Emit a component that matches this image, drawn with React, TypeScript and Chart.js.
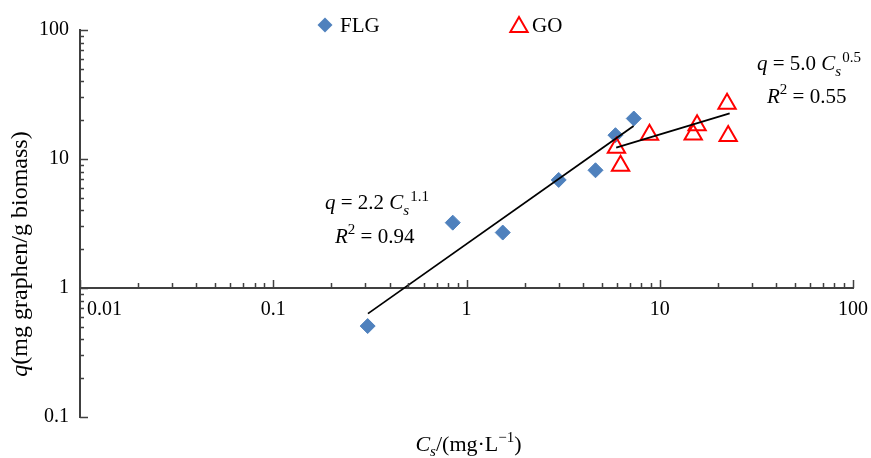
import React, { useEffect, useRef } from 'react';
import { Chart, registerables } from 'chart.js';

Chart.register(...registerables);

const FONT = "'Liberation Serif', 'Times New Roman', Times, serif";
const AXIS_COLOR = '#404040';
const FLG_COLOR = '#4F81BD';
const GO_COLOR = '#FF0000';

// ---- data ----
const seriesNames = ['FLG', 'GO'];
const flgCs = [0.308, 0.849, 1.54, 3.0, 4.65, 5.9, 7.34];
const flgQ = [0.507, 3.21, 2.69, 6.88, 8.18, 15.3, 20.6];
const goCs = [5.97, 6.27, 8.85, 14.9, 15.6, 22.3, 22.6];
const goQ = [12.2, 8.86, 15.4, 15.5, 18.3, 26.8, 15.1];
const flgFitCs = [0.309, 7.32];
const flgFitQ = [0.633, 18.0];
const goFitCs = [5.95, 23.0];
const goFitQ = [12.25, 22.6];
const xTickValues = [0.01, 0.1, 1, 10, 100];
const xTickLabels = ['0.01', '0.1', '1', '10', '100'];
const yTickValues = [0.1, 1, 10, 100];
const yTickLabels = ['0.1', '1', '10', '100'];
const xMinorFactors = [2, 3, 4, 5, 6, 7, 8, 9];

type Part = { t: string; italic?: boolean; size: number; dy?: number; dx?: number };

function measureRich(ctx: CanvasRenderingContext2D, parts: Part[]) {
  let w = 0;
  for (const p of parts) {
    ctx.font = `${p.italic ? 'italic ' : ''}${p.size}px ${FONT}`;
    w += ctx.measureText(p.t).width + (p.dx || 0);
  }
  return w;
}

function drawRich(ctx: CanvasRenderingContext2D, x: number, y: number, parts: Part[]) {
  let cx = x;
  ctx.textAlign = 'left';
  ctx.textBaseline = 'alphabetic';
  for (const p of parts) {
    ctx.font = `${p.italic ? 'italic ' : ''}${p.size}px ${FONT}`;
    cx += p.dx || 0;
    ctx.fillText(p.t, cx, y + (p.dy || 0));
    cx += ctx.measureText(p.t).width;
  }
}

const decorPlugin = {
  id: 'decor',
  afterDraw(chart: any) {
    const { ctx, chartArea, scales } = chart;
    const xs = scales.x;
    const ys = scales.y;
    const axisX = chartArea.left;
    const axisY = ys.getPixelForValue(1);
    ctx.save();
    ctx.strokeStyle = AXIS_COLOR;
    ctx.lineWidth = 1.5;
    ctx.beginPath();
    // y ticks (inside, to the right)
    for (let i = 0; i < yTickValues.length; i++) {
      const v = yTickValues[i];
      const p = Math.round(ys.getPixelForValue(v)) + 0.5;
      ctx.moveTo(axisX, p);
      ctx.lineTo(axisX + 8, p);
      if (i < yTickValues.length - 1) {
        for (const f of xMinorFactors) {
          const pm = Math.round(ys.getPixelForValue(v * f)) + 0.5;
          ctx.moveTo(axisX, pm);
          ctx.lineTo(axisX + 4, pm);
        }
      }
    }
    // x ticks (upwards)
    for (let i = 0; i < xTickValues.length; i++) {
      const v = xTickValues[i];
      const p = Math.round(xs.getPixelForValue(v)) + 0.5;
      ctx.moveTo(p, axisY);
      ctx.lineTo(p, axisY - 8);
      if (i < xTickValues.length - 1) {
        for (const f of xMinorFactors) {
          const pm = Math.round(xs.getPixelForValue(v * f)) + 0.5;
          ctx.moveTo(pm, axisY);
          ctx.lineTo(pm, axisY - 5);
        }
      }
    }
    ctx.stroke();

    // x tick labels
    ctx.fillStyle = '#000';
    ctx.font = `20px ${FONT}`;
    ctx.textBaseline = 'alphabetic';
    for (let i = 0; i < xTickValues.length; i++) {
      const p = xs.getPixelForValue(xTickValues[i]);
      if (i === 0) {
        ctx.textAlign = 'left';
        ctx.fillText(xTickLabels[i], p + 7, axisY + 27);
      } else {
        ctx.textAlign = 'center';
        ctx.fillText(xTickLabels[i], p, axisY + 27);
      }
    }

    // legend
    const lx1 = 325, ly = 25;
    ctx.fillStyle = FLG_COLOR;
    ctx.beginPath();
    ctx.moveTo(lx1 - 7.5, ly);
    ctx.lineTo(lx1, ly - 7.5);
    ctx.lineTo(lx1 + 7.5, ly);
    ctx.lineTo(lx1, ly + 7.5);
    ctx.closePath();
    ctx.fill();
    const lx2 = 519, ly2 = 27, r = 10;
    ctx.strokeStyle = GO_COLOR;
    ctx.lineWidth = 2;
    ctx.beginPath();
    ctx.moveTo(lx2, ly2 - r);
    ctx.lineTo(lx2 + r * Math.sin((2 * Math.PI) / 3), ly2 - r * Math.cos((2 * Math.PI) / 3));
    ctx.lineTo(lx2 + r * Math.sin((4 * Math.PI) / 3), ly2 - r * Math.cos((4 * Math.PI) / 3));
    ctx.closePath();
    ctx.stroke();
    ctx.fillStyle = '#000';
    ctx.font = `21px ${FONT}`;
    ctx.textAlign = 'left';
    ctx.fillText(seriesNames[0], 340, 32);
    ctx.fillText(seriesNames[1], 532, 32);

    // equations
    const eq = (x: number, y: number, coef: string, exp: string) =>
      drawRich(ctx, x, y, [
        { t: 'q', italic: true, size: 21 },
        { t: ` = ${coef} `, size: 21 },
        { t: 'C', italic: true, size: 21 },
        { t: 's', italic: true, size: 15, dy: 6 },
        { t: exp, size: 15, dy: -8, dx: 1 },
      ]);
    const r2 = (x: number, y: number, val: string) =>
      drawRich(ctx, x, y, [
        { t: 'R', italic: true, size: 21 },
        { t: '2', size: 15, dy: -9 },
        { t: ` = ${val}`, size: 21 },
      ]);
    eq(325, 209, '2.2', '1.1');
    r2(335, 243, '0.94');
    eq(757, 69.5, '5.0', '0.5');
    r2(767, 102.5, '0.55');

    // x axis title
    const xt: Part[] = [
      { t: 'C', italic: true, size: 22 },
      { t: 's', italic: true, size: 15, dy: 5 },
      { t: '/(mg·L', size: 22 },
      { t: '−1', size: 15, dy: -9 },
      { t: ')', size: 22 },
    ];
    const xtw = measureRich(ctx, xt);
    drawRich(ctx, (chartArea.left + chartArea.right) / 2 - xtw / 2 + 2, 451, xt);

    // y axis title
    const yt: Part[] = [
      { t: 'q', italic: true, size: 24 },
      { t: '(mg graphen/g biomass)', size: 24 },
    ];
    const ytw = measureRich(ctx, yt);
    ctx.save();
    ctx.translate(27, 254);
    ctx.rotate(-Math.PI / 2);
    drawRich(ctx, -ytw / 2, 0, yt);
    ctx.restore();

    ctx.restore();
  },
};

export default function App() {
  const ref = useRef<HTMLCanvasElement | null>(null);
  useEffect(() => {
    if (!ref.current) return;
    const toXY = (xs: number[], ys: number[]) => xs.map((x, i) => ({ x, y: ys[i] }));
    const chart = new Chart(ref.current, {
      type: 'scatter',
      data: {
        datasets: [
          {
            label: 'FLG fit',
            data: toXY(flgFitCs, flgFitQ),
            showLine: true,
            pointRadius: 0,
            borderColor: '#000',
            borderWidth: 1.8,
          },
          {
            label: 'GO fit',
            data: toXY(goFitCs, goFitQ),
            showLine: true,
            pointRadius: 0,
            borderColor: '#000',
            borderWidth: 1.8,
          },
          {
            label: seriesNames[1],
            data: toXY(goCs, goQ),
            pointStyle: 'triangle',
            pointRadius: 10,
            pointHoverRadius: 10,
            backgroundColor: 'rgba(0,0,0,0)',
            borderColor: GO_COLOR,
            borderWidth: 2,
          },
          {
            label: seriesNames[0],
            data: toXY(flgCs, flgQ),
            pointStyle: 'rectRot',
            pointRadius: 7.5,
            pointHoverRadius: 7.5,
            backgroundColor: FLG_COLOR,
            borderColor: FLG_COLOR,
            borderWidth: 1,
          },
        ],
      },
      options: {
        responsive: false,
        animation: false,
        events: [],
        layout: { padding: { left: 0, right: 18, top: 30, bottom: 41 } },
        plugins: { legend: { display: false }, tooltip: { enabled: false } },
        scales: {
          x: {
            type: 'logarithmic',
            min: 0.01,
            max: 100,
            position: { y: 1 } as any,
            grid: { display: false },
            border: { display: true, color: AXIS_COLOR, width: 2 },
            ticks: { display: false },
          },
          y: {
            type: 'logarithmic',
            min: 0.1,
            max: 100,
            position: 'left',
            grid: { display: false, drawTicks: false },
            border: { display: true, color: AXIS_COLOR, width: 2 },
            ticks: {
              padding: 11,
              color: '#000',
              font: { family: FONT, size: 20 },
              callback: (v: any) => {
                const i = yTickValues.indexOf(Number(v));
                return i >= 0 ? yTickLabels[i] : '';
              },
            },
            afterBuildTicks: (s: any) => {
              s.ticks = yTickValues.map((v) => ({ value: v }));
            },
            afterFit: (s: any) => {
              s.width = 80;
            },
          },
        },
      },
      plugins: [decorPlugin],
    });
    return () => chart.destroy();
  }, []);
  return (
    <div style={{ position: 'absolute', left: 0, top: 0, width: 871, height: 458, background: '#fff' }}>
      <canvas ref={ref} width={871} height={458} style={{ display: 'block' }} />
    </div>
  );
}
